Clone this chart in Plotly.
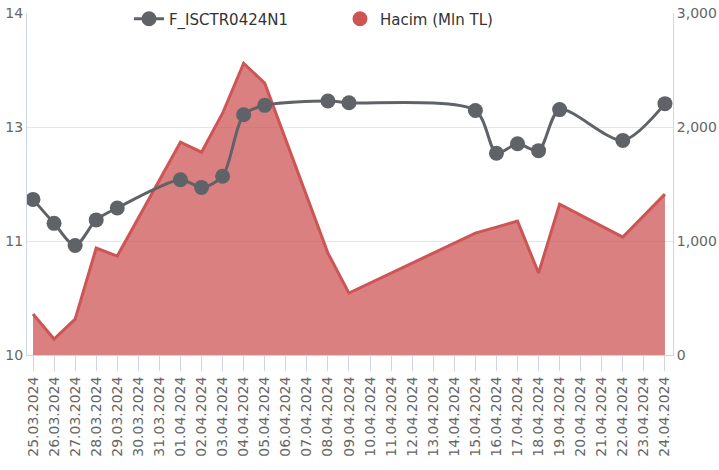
import numpy as np
import plotly.graph_objects as go

# ---- data ----
dates = ["2024-03-25", "2024-03-26", "2024-03-27", "2024-03-28", "2024-03-29",
         "2024-04-01", "2024-04-02", "2024-04-03", "2024-04-04", "2024-04-05",
         "2024-04-08", "2024-04-09", "2024-04-15", "2024-04-16", "2024-04-17",
         "2024-04-18", "2024-04-19", "2024-04-22", "2024-04-24"]
price = [11.82, 11.54, 11.28, 11.58, 11.72, 12.05, 11.96, 12.09, 12.81, 12.92,
         12.97, 12.95, 12.86, 12.36, 12.47, 12.39, 12.87, 12.51, 12.94]
volume = [359, 140, 315, 938, 868, 1867, 1779, 2121, 2559, 2384,
          894, 543, 1069, 1122, 1174, 719, 1323, 1034, 1411]
price_name = "F_ISCTR0424N1"
volume_name = "Hacim (Mln TL)"
left_tick_labels = ["10", "11", "13", "14"]
right_ticks = [0, 1000, 2000, 3000]

FONT = "DejaVu Sans"
GRAY = "#5f6368"
RED = "rgb(205,85,85)"
AXIS = "#ccd6eb"

fig = go.Figure()
fig.add_trace(go.Scatter(
    x=dates, y=volume, name=volume_name, mode="lines",
    line=dict(color=RED, width=3), fill="tozeroy",
    fillcolor="rgba(205,85,85,0.75)", yaxis="y", showlegend=False,
))
fig.add_trace(go.Scatter(
    x=dates, y=price, name=price_name, mode="lines+markers",
    line=dict(color=GRAY, width=3, shape="spline", smoothing=0.8),
    marker=dict(size=15, color=GRAY), yaxis="y2", legendrank=1,
))
# legend entry for the area series (circle symbol, as in the reference)
fig.add_trace(go.Scatter(
    x=[None], y=[None], name=volume_name, mode="markers",
    marker=dict(size=15, color=RED), yaxis="y2", legendrank=2,
))

fig.update_layout(
    width=719, height=470,
    margin=dict(l=27, r=46, t=13, b=115, autoexpand=False),
    paper_bgcolor="white", plot_bgcolor="white",
    font=dict(family=FONT, size=14, color="#666666"),
    showlegend=True,
    legend=dict(orientation="h", xref="container", yref="container",
                x=0.1794, xanchor="left", y=0.9596, yanchor="middle",
                bgcolor="rgba(0,0,0,0)", font=dict(size=15, color="#333333"),
                entrywidth=166, entrywidthmode="pixels"),
    xaxis=dict(
        type="date", range=["2024-03-24 17:10", "2024-04-24 09:10"],
        tick0="2024-03-25", dtick=86400000, tickformat="%d.%m.%Y", tickangle=-90,
        ticks="outside", ticklen=15, tickcolor=AXIS, tickwidth=1,
        showline=True, linecolor=AXIS, linewidth=1, showgrid=False, zeroline=False,
        tickfont=dict(size=14, color="#666666"), automargin=False,
        ticklabeloverflow="allow",
    ),
    yaxis=dict(
        side="right", range=[0, 3000], tickvals=right_ticks, tickformat=",",
        showline=True, linecolor=AXIS, linewidth=1, showgrid=True, gridcolor="#e6e6e6",
        gridwidth=1, zeroline=False, ticks="", tickfont=dict(size=14, color="#666666"),
        automargin=False, ticklabeloverflow="allow",
    ),
    yaxis2=dict(
        overlaying="y", side="left", range=[10, 14],
        tickvals=list(np.linspace(10, 14, len(left_tick_labels))), ticktext=left_tick_labels,
        showline=True, linecolor=AXIS, linewidth=1, showgrid=False, zeroline=False,
        ticks="", tickfont=dict(size=14, color="#666666"), automargin=False,
        ticklabeloverflow="allow",
    ),
)

fig.write_html("out.html", config={"displayModeBar": False},
               post_script="document.body.style.margin='0';")
